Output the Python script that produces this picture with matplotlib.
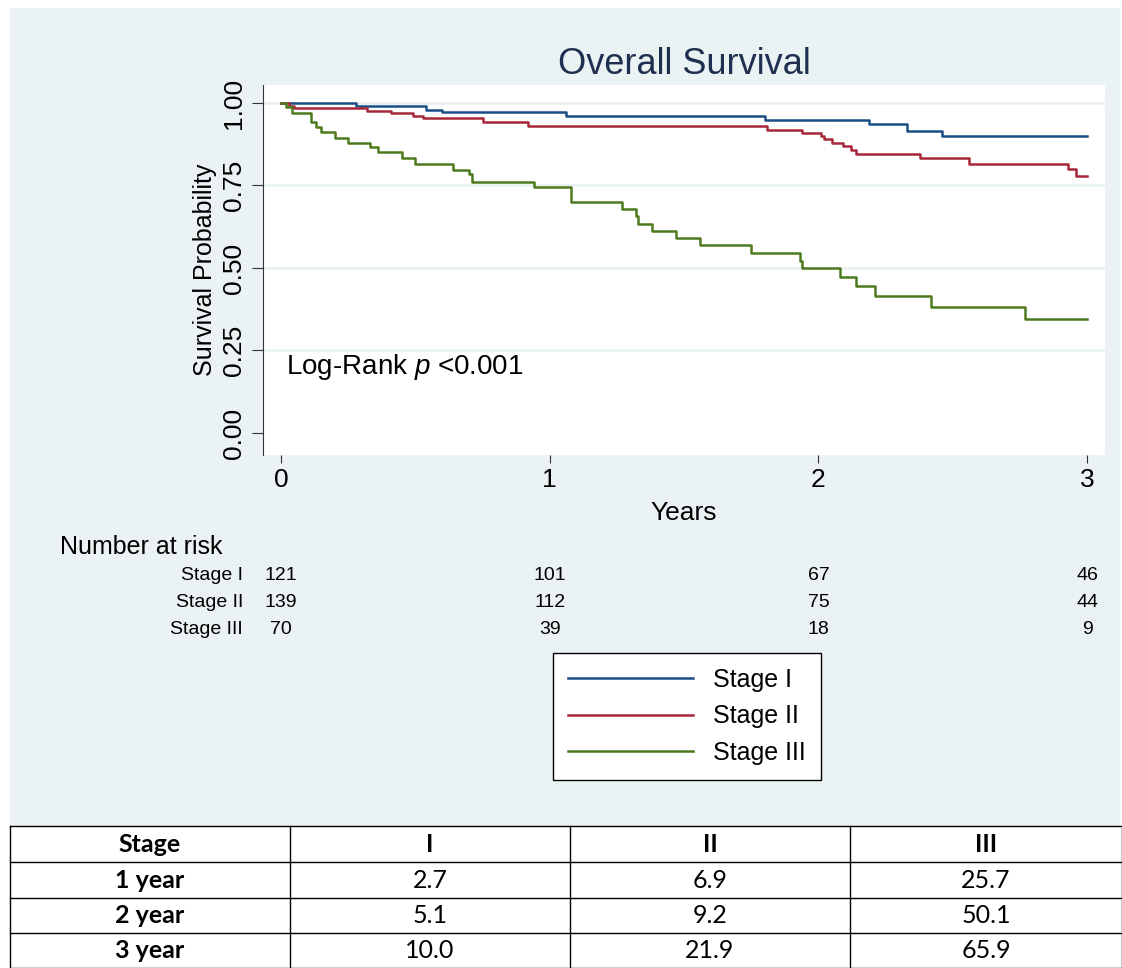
import numpy as np
import matplotlib.pyplot as plt
from matplotlib.patches import Rectangle

plt.rcParams["font.family"] = ["Liberation Sans", "DejaVu Sans"]
plt.rcParams["mathtext.fontset"] = "custom"
plt.rcParams["mathtext.it"] = "Liberation Sans:italic"

# step curves: (time, survival after step)
stage1_t = [0, 0.28, 0.54, 0.60, 1.06, 1.80, 2.19, 2.33, 2.46, 3.0]
stage1_s = [1.0, 0.99, 0.98, 0.972, 0.962, 0.948, 0.936, 0.916, 0.90, 0.90]
stage2_t = [0, 0.03, 0.05, 0.32, 0.41, 0.49, 0.53, 0.75, 0.92, 1.81, 1.94, 2.01,
            2.02, 2.05, 2.09, 2.12, 2.14, 2.38, 2.56, 2.93, 2.96, 3.0]
stage2_s = [1.0, 0.992, 0.984, 0.977, 0.97, 0.962, 0.954, 0.941, 0.929, 0.917, 0.909, 0.90,
            0.89, 0.88, 0.869, 0.858, 0.846, 0.832, 0.815, 0.80, 0.78, 0.78]
stage3_t = [0, 0.02, 0.04, 0.11, 0.13, 0.15, 0.20, 0.25, 0.33, 0.36, 0.45, 0.50, 0.64,
            0.70, 0.71, 0.94, 1.08, 1.27, 1.32, 1.33, 1.38, 1.47, 1.56, 1.75, 1.93, 1.94,
            2.08, 2.14, 2.21, 2.42, 2.77, 3.0]
stage3_s = [1.0, 0.987, 0.97, 0.941, 0.926, 0.911, 0.893, 0.88, 0.866, 0.85, 0.832, 0.815,
            0.798, 0.785, 0.762, 0.744, 0.70, 0.679, 0.659, 0.633, 0.613, 0.59, 0.57, 0.545,
            0.522, 0.50, 0.472, 0.446, 0.416, 0.381, 0.345, 0.345]

risk_years = [0, 1, 2, 3]
risk_stage1 = [121, 101, 67, 46]
risk_stage2 = [139, 112, 75, 44]
risk_stage3 = [70, 39, 18, 9]

table_header = ["Stage", "I", "II", "III"]
table_rows = [["1 year", "2.7", "6.9", "25.7"],
              ["2 year", "5.1", "9.2", "50.1"],
              ["3 year", "10.0", "21.9", "65.9"]]

colors = ["#1a4f86", "#a8283a", "#4d7a1e"]
names = ["Stage I", "Stage II", "Stage III"]
W, H = 1122, 968

fig = plt.figure(figsize=(W / 100, H / 100), dpi=100)
fig.patch.set_facecolor("white")
fig.add_artist(Rectangle((10 / W, 1 - 826 / H), 1110 / W, 818 / H, transform=fig.transFigure,
                         facecolor="#eaf2f3", edgecolor="none", zorder=0))

ax = fig.add_axes([263 / W, 1 - 455 / H, 842 / W, 370 / H])
ax.set_facecolor("white")
ax.set_xlim(-0.067, 3.067)
ax.set_ylim(-0.0667, 1.0545)
for y in [0.25, 0.5, 0.75, 1.0]:
    ax.axhline(y, color="#eaf2f3", lw=2, zorder=1)
lines = []
for t, s, c, n in zip([stage1_t, stage2_t, stage3_t], [stage1_s, stage2_s, stage3_s], colors, names):
    ln, = ax.step(t, s, where="post", color=c, lw=1.8, label=n, zorder=3)
    lines.append(ln)

for sp in ["top", "right"]:
    ax.spines[sp].set_visible(False)
ax.spines["left"].set_color("#333333")
ax.spines["bottom"].set_visible(False)
ax.set_yticks([0, 0.25, 0.5, 0.75, 1.0])
ax.set_yticklabels(["0.00", "0.25", "0.50", "0.75", "1.00"], rotation=90, va="center", fontsize=19)
ax.set_xticks([0, 1, 2, 3])
ax.tick_params(axis="y", length=8, color="#333333", pad=4)
ax.tick_params(axis="x", length=6, labelsize=19, color="#333333")
ax.set_ylabel("Survival Probability", fontsize=18, labelpad=4)
ax.set_xlabel("Years", fontsize=19, labelpad=6)
ax.set_title("Overall Survival", fontsize=26, color="#1f2f4f", pad=8)
ax.text(0.02, 0.2, "Log-Rank $p$ <0.001", fontsize=20, va="center")

# number at risk
fig.text(60 / W, 1 - 547 / H, "Number at risk", fontsize=18, va="center")
for i, (lab, vals) in enumerate(zip(names, [risk_stage1, risk_stage2, risk_stage3])):
    yy = 1 - (576 + i * 26.5) / H
    fig.text(243 / W, yy, lab, fontsize=14, ha="right", va="center")
    for x, v in zip(risk_years, vals):
        xf = (281 + x * 268.7) / W
        fig.text(xf, yy, str(v), fontsize=14, ha="center", va="center")

fig.legend(handles=lines, loc="upper left", bbox_to_anchor=(553 / W, 1 - 653 / H),
           fontsize=18, frameon=True, fancybox=False, edgecolor="black", facecolor="white",
           framealpha=1, handlelength=5.0, borderpad=0.6, labelspacing=0.5,
           handletextpad=0.8, borderaxespad=0)

# table
col_x = [10, 290, 570, 850, 1122]
row_y = [826, 862, 898, 933, 968]
tab = fig.add_axes([0, 0, 1, 1], zorder=5)
tab.set_xlim(0, W)
tab.set_ylim(H, 0)
tab.axis("off")
tab.patch.set_alpha(0)
tab.add_patch(Rectangle((10, 826), 1112, 142, facecolor="white", edgecolor="none"))
for y in row_y:
    tab.plot([10, 1122], [y, y], color="black", lw=1)
for x in col_x:
    tab.plot([x, x], [826, 968], color="black", lw=1)
allrows = [table_header] + table_rows
for r, row in enumerate(allrows):
    yc = (row_y[r] + row_y[r + 1]) / 2
    for c, val in enumerate(row):
        xc = (col_x[c] + col_x[c + 1]) / 2
        bold = (r == 0 or c == 0)
        tab.text(xc, yc, val, ha="center", va="center", fontsize=18,
                 fontweight="bold" if bold else "normal", family="Lato")

fig.savefig("out.png", dpi=100, facecolor="white")
